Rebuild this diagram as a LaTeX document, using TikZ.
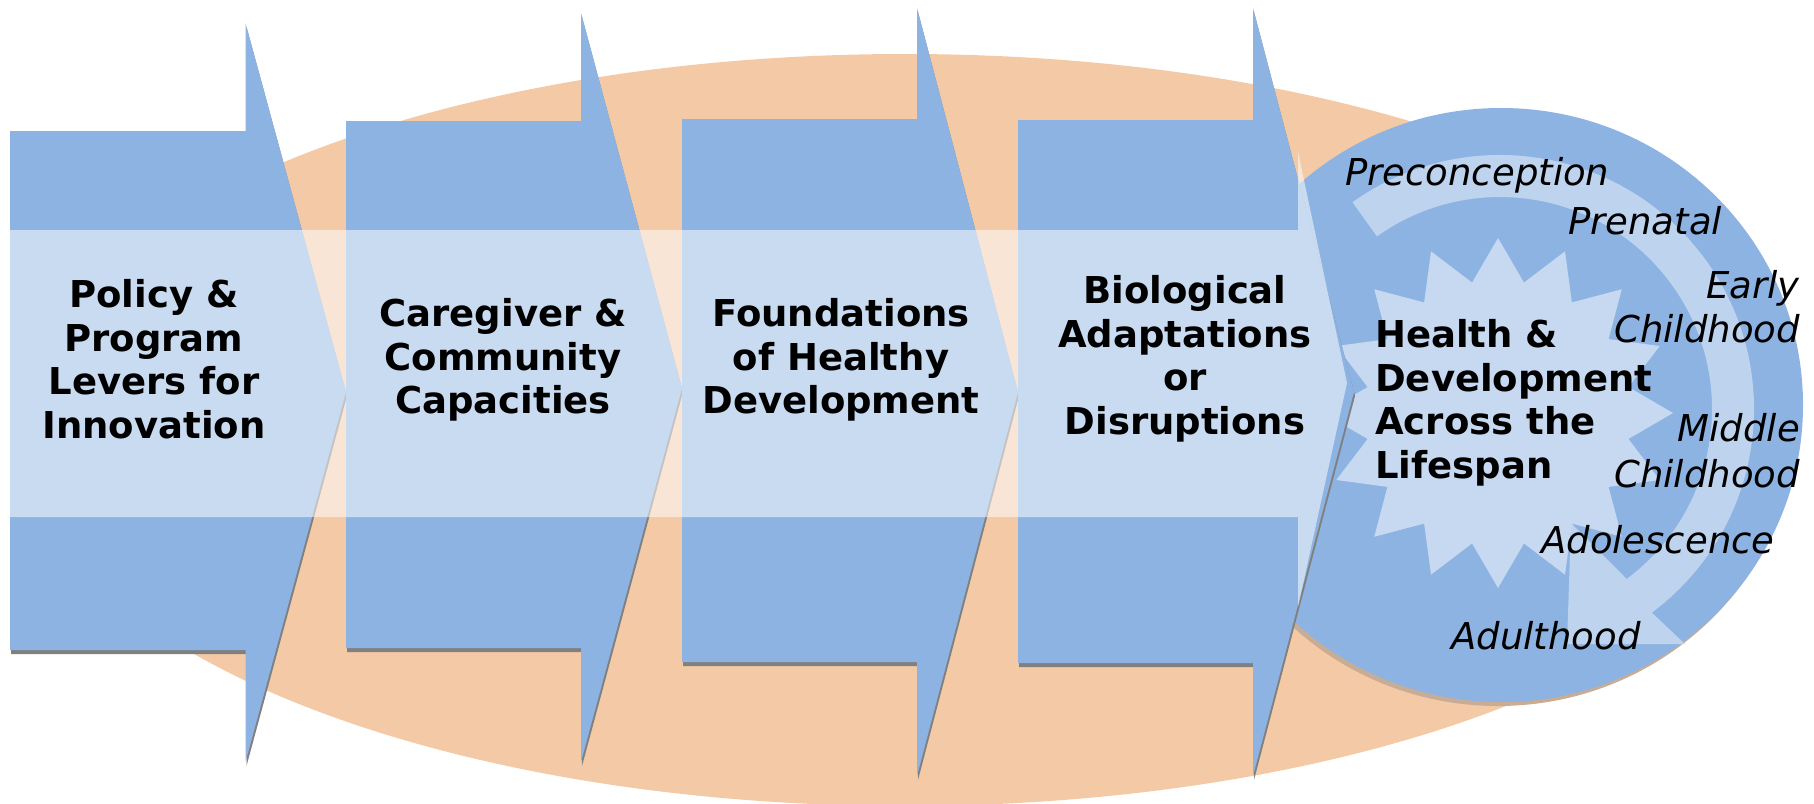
\documentclass[tikz,border=0pt]{standalone}
\usepackage{fontspec}
\setmainfont{DejaVu Sans}
\usetikzlibrary{shapes.geometric,calc}
\definecolor{blueA}{HTML}{8DB3E2}
\definecolor{orangeE}{HTML}{F4C9A6}
\definecolor{starC}{HTML}{C6D9F1}
\definecolor{arcC}{HTML}{BED4EE}
\definecolor{shadowG}{HTML}{808080}
\definecolor{circShadow}{HTML}{C9AC96}
\tikzset{
  arrowfill/.style={fill=blueA},
  arrowshadow/.style={fill=shadowG},
  bandfill/.style={fill=white, fill opacity=0.53},
  stagelabel/.style={font=\bfseries\fontsize{37}{43.5}\selectfont, align=center, inner sep=0pt},
  agelabel/.style={font=\itshape\fontsize{37}{43.5}\selectfont, inner sep=0pt},
}
% #1 x0, #2 top, #3 bottom, #4 head x, #5 head top, #6 head bottom, #7 tip x, #8 tip y
\newcommand{\stagearrow}[8]{%
  \begin{scope}[shift={(1,4)}]
    \fill[arrowshadow] (#1,#2) -- (#4,#2) -- (#4,#5) -- (#7,#8) -- (#4,#6) -- (#4,#3) -- (#1,#3) -- cycle;
  \end{scope}
  \fill[arrowfill] (#1,#2) -- (#4,#2) -- (#4,#5) -- (#7,#8) -- (#4,#6) -- (#4,#3) -- (#1,#3) -- cycle;
}
\begin{document}
\begin{tikzpicture}[x=1pt,y=-1pt]
\useasboundingbox (0,0) rectangle (1814,803);
\clip (0,0) rectangle (1814,803);
% background ellipse
\fill[orangeE] (905,430) ellipse[x radius=885, y radius=376];
% lifespan circle
\fill[circShadow] (1498,409) ellipse[x radius=302, y radius=297];
\fill[blueA] (1501,405) ellipse[x radius=302, y radius=297];
% circular arrow
\coordinate (ac) at (1500,409);
\fill[arcC] ($(ac)+(-125.5:254)$) arc[start angle=-125.5, end angle=53.3, radius=254]
  -- (1685,644) -- (1567,644) -- (1571,523)
  -- ($(ac)+(53.3:212)$) arc[start angle=53.3, end angle=-125.5, radius=212] -- cycle;
% burst
\node[star, star points=16, star point ratio=1.316, minimum size=350pt, inner sep=0pt, fill=starC] (burst) at (1498,413) {};
% stage arrows
\stagearrow{10}{131}{650}{245.5}{23}{762}{346}{392}
\stagearrow{346}{121}{648}{581}{13}{762}{682}{388}
\stagearrow{682}{119}{662}{917}{8}{776}{1018}{392}
\stagearrow{1018}{120}{663}{1253}{8}{776}{1354}{392}
% translucent band arrow
\fill[bandfill] (10,230) -- (1298,230) -- (1298,152) -- (1347,383) -- (1298,607) -- (1298,517) -- (10,517) -- cycle;
% stage labels
\node[stagelabel] (s1) at (154,359) {Policy \&\\Program\\Levers for\\Innovation};
\node[stagelabel] (s2) at (503,360) {Caregiver \&\\Community\\Capacities};
\node[stagelabel] (s3) at (841,360) {Foundations\\of Healthy\\Development};
\node[stagelabel] (s4) at (1185,359) {Biological\\Adaptations\\or\\Disruptions};
\node[stagelabel, align=left, anchor=west] (hd) at (1375,403) {Health \&\\Development\\Across the\\Lifespan};
% life stages
\node[agelabel, anchor=base west] (a1) at (1345,185) {Preconception};
\node[agelabel, anchor=base west] (a2) at (1568,234) {Prenatal};
\node[agelabel, anchor=base east] (a3) at (1800,298) {Early};
\node[agelabel, anchor=base east] (a4) at (1800,342) {Childhood};
\node[agelabel, anchor=base east] (a5) at (1800,441) {Middle};
\node[agelabel, anchor=base east] (a6) at (1800,487) {Childhood};
\node[agelabel, anchor=base west] (a7) at (1541,553) {Adolescence};
\node[agelabel, anchor=base west] (a8) at (1451,649) {Adulthood};
\end{tikzpicture}
\end{document}
